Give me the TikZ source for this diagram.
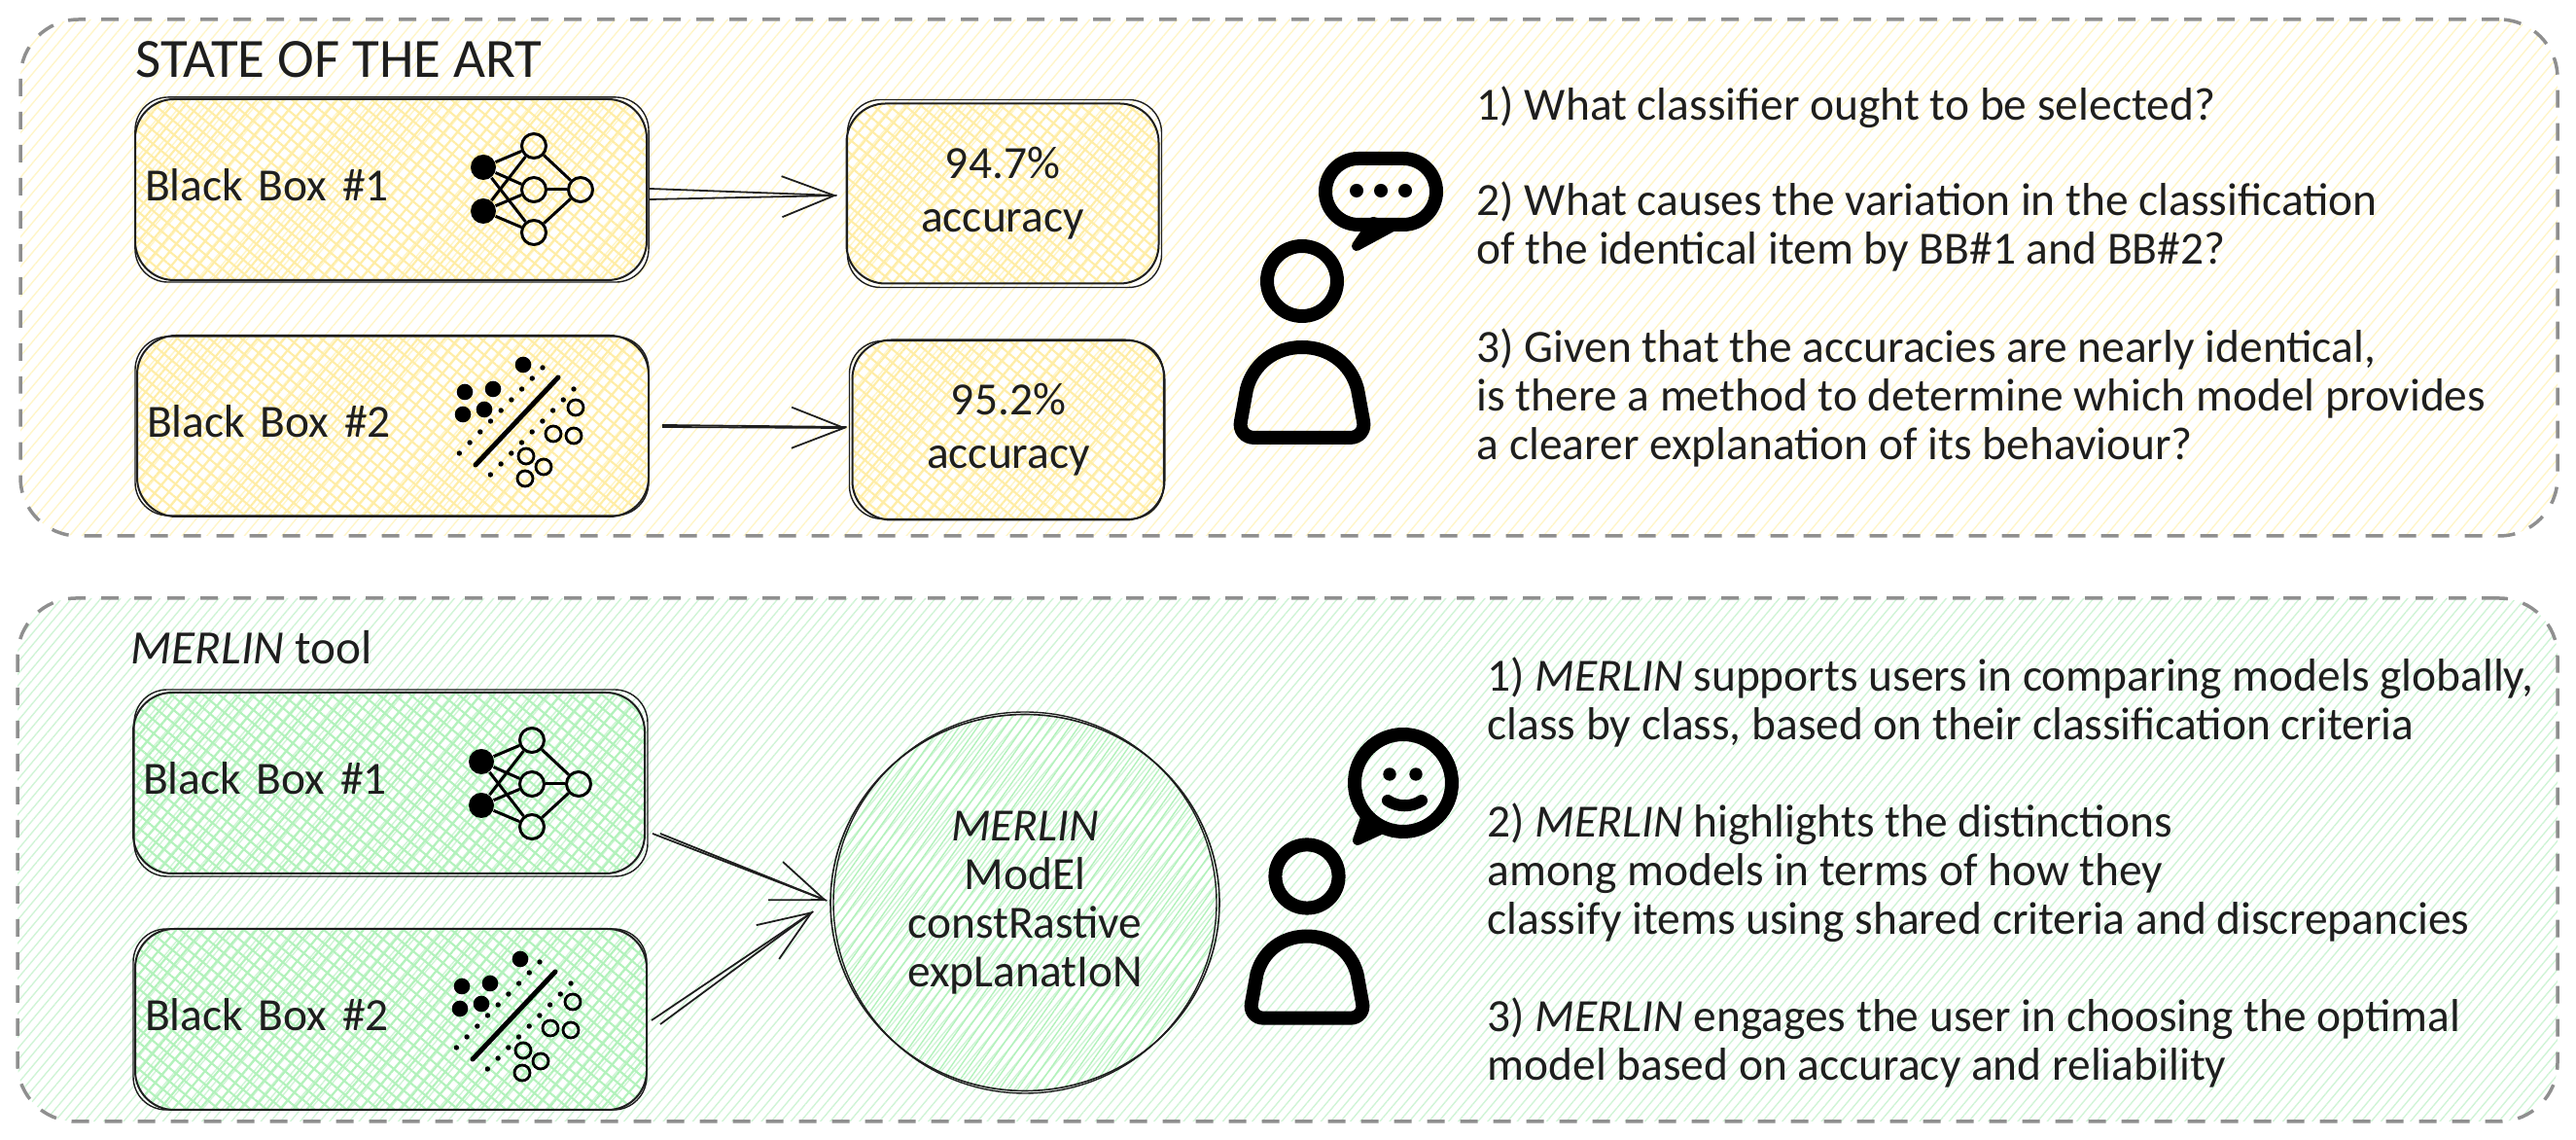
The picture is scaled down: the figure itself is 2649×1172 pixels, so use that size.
\documentclass[tikz,border=0pt]{standalone}
\usepackage{fontspec}
\usepackage{tikz}
\usetikzlibrary{arrows.meta,patterns.meta,shapes.geometric}
\setmainfont{Carlito}
\definecolor{inkblack}{HTML}{1E1E1E}
\definecolor{dashgray}{HTML}{8F8F8F}
\definecolor{hatchY}{HTML}{FFF5C8}
\definecolor{boxY}{HTML}{FFEDA6}
\definecolor{hatchG}{HTML}{D0F4D6}
\definecolor{boxG}{HTML}{B2F2BB}
\tikzset{
	every node/.style={text=inkblack, font=\fontsize{13.5}{14.2}\selectfont},
	panel/.style={draw=dashgray, line width=.35mm, dash pattern=on 1.8mm off 1.6mm, rounded corners=6mm},
	panelY/.style={panel, pattern={Lines[angle=50,distance=2.8pt,line width=.4pt]}, pattern color=hatchY},
	panelG/.style={panel, pattern={Lines[angle=50,distance=2.2pt,line width=.4pt]}, pattern color=hatchG},
	sketchline/.style={draw=inkblack, line width=.2mm, rounded corners=4mm},
	hatchbox/.style={sketchline, preaction={pattern={Lines[angle=50,distance=3pt,line width=.6pt]}, pattern color=#1}, pattern={Lines[angle=-40,distance=3pt,line width=.6pt]}, pattern color=#1},
	blackbox/.style={hatchbox=#1, text width=50.6mm, inner xsep=1mm, minimum height=18.6mm, text depth=1mm, align=left},
	scorebox/.style={hatchbox=#1, minimum width=32.1mm, minimum height=18.5mm, align=center},
	sketcharrow/.style={inkblack, line width=.18mm},
	sketchtip/.style={sketcharrow, -{Straight Barb[length=5.4mm,width=4.2mm]}},
	titletext/.style={anchor=west, inner sep=0pt},
	listtext/.style={anchor=west, inner sep=0pt, align=left},
	nnfull/.style={shape=circle, fill=black, inner sep=0pt, minimum size=2.6mm},
	nnopen/.style={shape=circle, draw=black, line width=.3mm, inner sep=0pt, minimum size=2.5mm},
	nnwire/.style={draw=black, line width=.3mm},
	userline/.style={draw=black, line width=1.4mm, line join=round},
	nnicon/.pic={
		\node[nnfull] (-i1) at (-52,-23) {};
		\node[nnfull] (-i2) at (-52,22) {};
		\node[nnopen] (-h1) at (0,-45) {};
		\node[nnopen] (-h2) at (0,0) {};
		\node[nnopen] (-h3) at (0,44) {};
		\node[nnopen] (-o) at (48,0) {};
		\foreach \a in {i1,i2} \foreach \b in {h1,h2,h3} \path [nnwire] (-\a) edge (-\b);
		\foreach \b in {h1,h2,h3} \path [nnwire] (-\b) edge (-o);
	},
	scattericon/.pic={
		\foreach \p in {(6,-59),(-54,-31),(-25,-34),(-56,-8),(-34,-13)} \fill[black] \p circle [radius=8.3];
		\foreach \p in {(60,-15),(37,12),(58,14),(9,35),(27,46),(8,58)} \draw[black, line width=.28mm] \p circle [radius=8];
		\draw[black, line width=.5mm, line cap=round] (42,-46) -- (-43,44);
		\foreach \i in {0,...,8} {
			\fill[black] (26-10.7*\i,-56+11*\i) circle [radius=2.7];
			\fill[black] (58-10.7*\i,-34+11*\i) circle [radius=2.7];
		}
	},
	usericon/.pic={
		\node[userline, shape=circle, inner sep=0pt, minimum size=7.2mm, transform shape] (-head) at (0,0) {};
		\draw[userline] (-49,161) -- (49,161) .. controls (59,161) and (65,153) .. (63,144) -- (57,111) .. controls (50,85) and (28,68) .. (0,68) .. controls (-28,68) and (-50,85) .. (-57,111) -- (-63,144) .. controls (-65,153) and (-59,161) .. (-49,161) -- cycle;
	}
}
\begin{document}
\begin{tikzpicture}[x=.1mm, y=-.1mm]
	\useasboundingbox (0,0) rectangle (2649,1172);
	\node[panelY, minimum width=260.9mm, minimum height=53.1mm] (panelTop) at (1325.5,285.5) {};
	\node[panelG, minimum width=261.2mm, minimum height=53.8mm] (panelBot) at (1324,884) {};
	\node[titletext, font=\fontsize{16.2}{17}\selectfont] (titleTop) at (139,61) {STATE OF THE ART};
	\node[titletext, font=\fontsize{14}{15}\selectfont] (titleBot) at (134,666) {\textit{MERLIN} tool};

	\node[blackbox=boxY] (bbA) at (402,195) {Black Box \#1};
	\node[blackbox=boxY] (bbB) at (404,438) {Black Box \#2};
	\node[scorebox=boxY] (scoreA) at (1031,199) {94.7\%\\[1.4pt]accuracy};
	\node[scorebox=boxY] (scoreB) at (1037,442) {95.2\%\\[1.4pt]accuracy};
	\node[blackbox=boxG] (bbC) at (400,805) {Black Box \#1};
	\node[blackbox=boxG] (bbD) at (402,1048) {Black Box \#2};
	\node[shape=ellipse, draw=inkblack, line width=.16mm, inner sep=0pt, minimum width=40mm, minimum height=38.7mm, pattern={Lines[angle=55,distance=2.2pt,line width=.4pt]}, pattern color=boxG, align=center] (merlin) at (1054,928) {\textit{MERLIN}\\ModEl\\constRastive\\expLanatIoN};
	\draw[sketchline, line width=.14mm] (merlin.center) ellipse [x radius=197,y radius=196];

	\foreach \n/\a/\b in {bbA/1/-1,bbB/-1/2,scoreA/2/-3,scoreB/-2/2,bbC/2/-2,bbD/-1/1}
		\draw[sketchline, line width=.14mm, rounded corners=3.4mm] ([shift={(\a,\b)}]\n.north west) rectangle ([shift={(\a,-\b)}]\n.south east);

	\pic (nnA) at (549,195) {nnicon};
	\pic (nnB) at (547,806) {nnicon};
	\pic (scatterA) at (532,434) {scattericon};
	\pic (scatterB) at (529,1045) {scattericon};

	\path [sketchtip] ([shift={(2,10)}]bbA.east) edge ([shift={(-9,2)}]scoreA.west);
	\path [sketcharrow] ([shift={(2,-1)}]bbA.east) edge ([shift={(-9,2)}]scoreA.west);
	\path [sketchtip] ([shift={(13,1)}]bbB.east) edge ([shift={(-5,-2)}]scoreB.west);
	\path [sketcharrow] ([shift={(13,-1)}]bbB.east) edge ([shift={(-5,-3)}]scoreB.west);
	\path [sketchtip] ([shift={(7,52)}]bbC.east) edge ([shift={(-3,-2)}]merlin.west);
	\path [sketcharrow] ([shift={(15,52)}]bbC.east) edge ([shift={(-3,-2)}]merlin.west);
	\path [sketchtip] ([shift={(4,1)}]bbD.east) edge ([shift={(-17,9)}]merlin.west);
	\path [sketcharrow] ([shift={(13,5)}]bbD.east) edge ([shift={(-17,9)}]merlin.west);

	\pic (userA) at (1339,289) {usericon};
	\pic[scale=.905] (userB) at (1344,901) {usericon};

	\node[userline, shape=rectangle, rounded corners=3.4mm, inner sep=0pt, minimum width=11.4mm, minimum height=6.8mm] (bubbleA) at (1420,197) {};
	\fill[black, draw=black, line width=1mm, line join=round] (1412,228) -- (1395,253) -- (1432,233) -- cycle;
	\foreach \x in {1395,1420,1445} \fill[black] (\x,196) circle [radius=7];

	\node[userline, shape=circle, inner sep=0pt, minimum size=10mm] (bubbleB) at (1443,805) {};
	\fill[black, draw=black, line width=1mm, line join=round] (1405,838) -- (1396,864) -- (1422,852) -- cycle;
	\foreach \x in {1429,1456} \fill[black] (\x,796) circle [radius=6.7];
	\draw[black, line width=1.2mm, line cap=round] (1427,823) .. controls (1437,830) and (1452,830) .. (1462,823);

	\node[listtext] (askA) at (1518,110) {1) What classifier ought to be selected?};
	\node[listtext] (askB) at (1518,233) {2) What causes the variation in the classification\\of the identical item by BB\#1 and BB\#2?};
	\node[listtext] (askC) at (1518,409) {3) Given that the accuracies are nearly identical,\\is there a method to determine which model provides\\a clearer explanation of its behaviour?};
	\node[listtext] (toolA) at (1529,722) {1) \textit{MERLIN} supports users in comparing models globally,\\class by class, based on their classification criteria};
	\node[listtext] (toolB) at (1529,897) {2) \textit{MERLIN} highlights the distinctions\\among models in terms of how they\\classify items using shared criteria and discrepancies};
	\node[listtext] (toolC) at (1529,1072) {3) \textit{MERLIN} engages the user in choosing the optimal\\model based on accuracy and reliability};
\end{tikzpicture}
\end{document}
